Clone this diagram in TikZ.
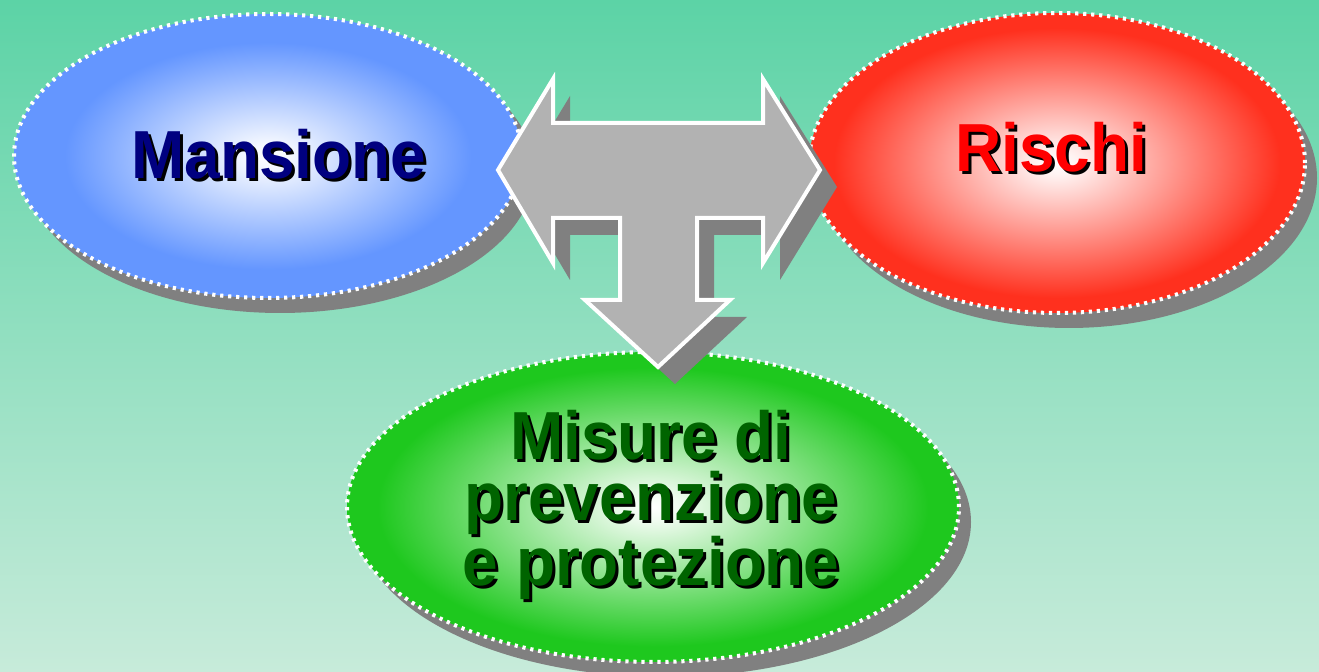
\documentclass[tikz,border=0pt]{standalone}
\usepackage{fontspec}
\setmainfont{Liberation Sans}
\usepackage{graphicx}
\usetikzlibrary{shapes.geometric,shadows}
\definecolor{bgtop}{RGB}{92,211,166}
\definecolor{bgbot}{RGB}{199,235,218}
\definecolor{blueE}{RGB}{100,150,255}
\definecolor{redE}{RGB}{255,48,30}
\definecolor{greenE}{RGB}{30,200,30}
\definecolor{shadowgray}{RGB}{128,128,128}
\definecolor{arrowgray}{RGB}{178,178,178}
\definecolor{navyT}{RGB}{0,0,128}
\definecolor{redT}{RGB}{255,0,0}
\definecolor{greenT}{RGB}{0,100,0}
\pgfdeclareradialshading{blueshade}{\pgfpoint{0bp}{0bp}}{color(0bp)=(white); color(2bp)=(white!94!blueE); color(20bp)=(blueE); color(50bp)=(blueE)}
\pgfdeclareradialshading{redshade}{\pgfpoint{0bp}{0bp}}{color(0bp)=(white); color(2bp)=(white!94!redE); color(22.5bp)=(redE); color(50bp)=(redE)}
\pgfdeclareradialshading{greenshade}{\pgfpoint{0bp}{0bp}}{color(0bp)=(white); color(2bp)=(white!94!greenE); color(22.5bp)=(greenE); color(50bp)=(greenE)}
\newcommand{\sq}[1]{\scalebox{0.94}[1]{#1}}
\tikzset{
  oval/.style={ellipse, inner sep=0pt, draw=white, line width=2pt,
    dash pattern=on 1.6pt off 2.4pt,
    general shadow={fill=shadowgray, shadow xshift=6pt, shadow yshift=-7.5pt, draw=none}},
  lbl/.style={font=\fontsize{34}{30.5}\selectfont\bfseries, inner sep=0pt, align=center},
  tarrow/.style={fill=arrowgray, draw=white, line width=2pt, line join=miter},
  tshadow/.style={fill=shadowgray}
}
\begin{document}
\begin{tikzpicture}[x=0.5pt,y=-0.5pt]
\useasboundingbox (0,0) rectangle (1319,672);
\shade[top color=bgtop, bottom color=bgbot] (0,0) rectangle (1319,672);
% ellipses
\node[oval, shading=blueshade, minimum width=254pt, minimum height=142pt] (mans) at (268,156) {};
\node[oval, shading=redshade, minimum width=248pt, minimum height=150pt] (risc) at (1057,163) {};
\node[oval, shading=greenshade, minimum width=306pt, minimum height=155pt] (misu) at (653,507) {};
% labels
\node[lbl, text=black, anchor=base, xshift=1.5pt, yshift=-1.5pt] at (279,179) {\sq{Mansione}};
\node[lbl, text=navyT, anchor=base] (tmans) at (279,179) {\sq{Mansione}};
\node[lbl, text=black, anchor=base, xshift=1.5pt, yshift=-1.5pt] at (1051,172) {\sq{Rischi}};
\node[lbl, text=redT, anchor=base] (trisc) at (1051,172) {\sq{Rischi}};
\node[lbl, text=black, xshift=1.5pt, yshift=-1.5pt] at (651,505) {\sq{Misure di}\\\sq{prevenzione}\\\sq{e protezione}};
\node[lbl, text=greenT] (tmisu) at (651,505) {\sq{Misure di}\\\sq{prevenzione}\\\sq{e protezione}};
% T arrow shadow
\begin{scope}[shift={(17,17)}]
\fill[tshadow] (498,170) -- (553,79) -- (553,123) -- (763,123) -- (763,79) -- (820,170)
  -- (763,263) -- (763,218) -- (697,218) -- (697,300) -- (730,300) -- (658,367)
  -- (585,300) -- (620,300) -- (620,218) -- (553,218) -- (553,263) -- cycle;
\end{scope}
% T arrow
\draw[tarrow] (498,170) -- (553,79) -- (553,123) -- (763,123) -- (763,79) -- (820,170)
  -- (763,263) -- (763,218) -- (697,218) -- (697,300) -- (730,300) -- (658,367)
  -- (585,300) -- (620,300) -- (620,218) -- (553,218) -- (553,263) -- cycle;
\end{tikzpicture}
\end{document}
